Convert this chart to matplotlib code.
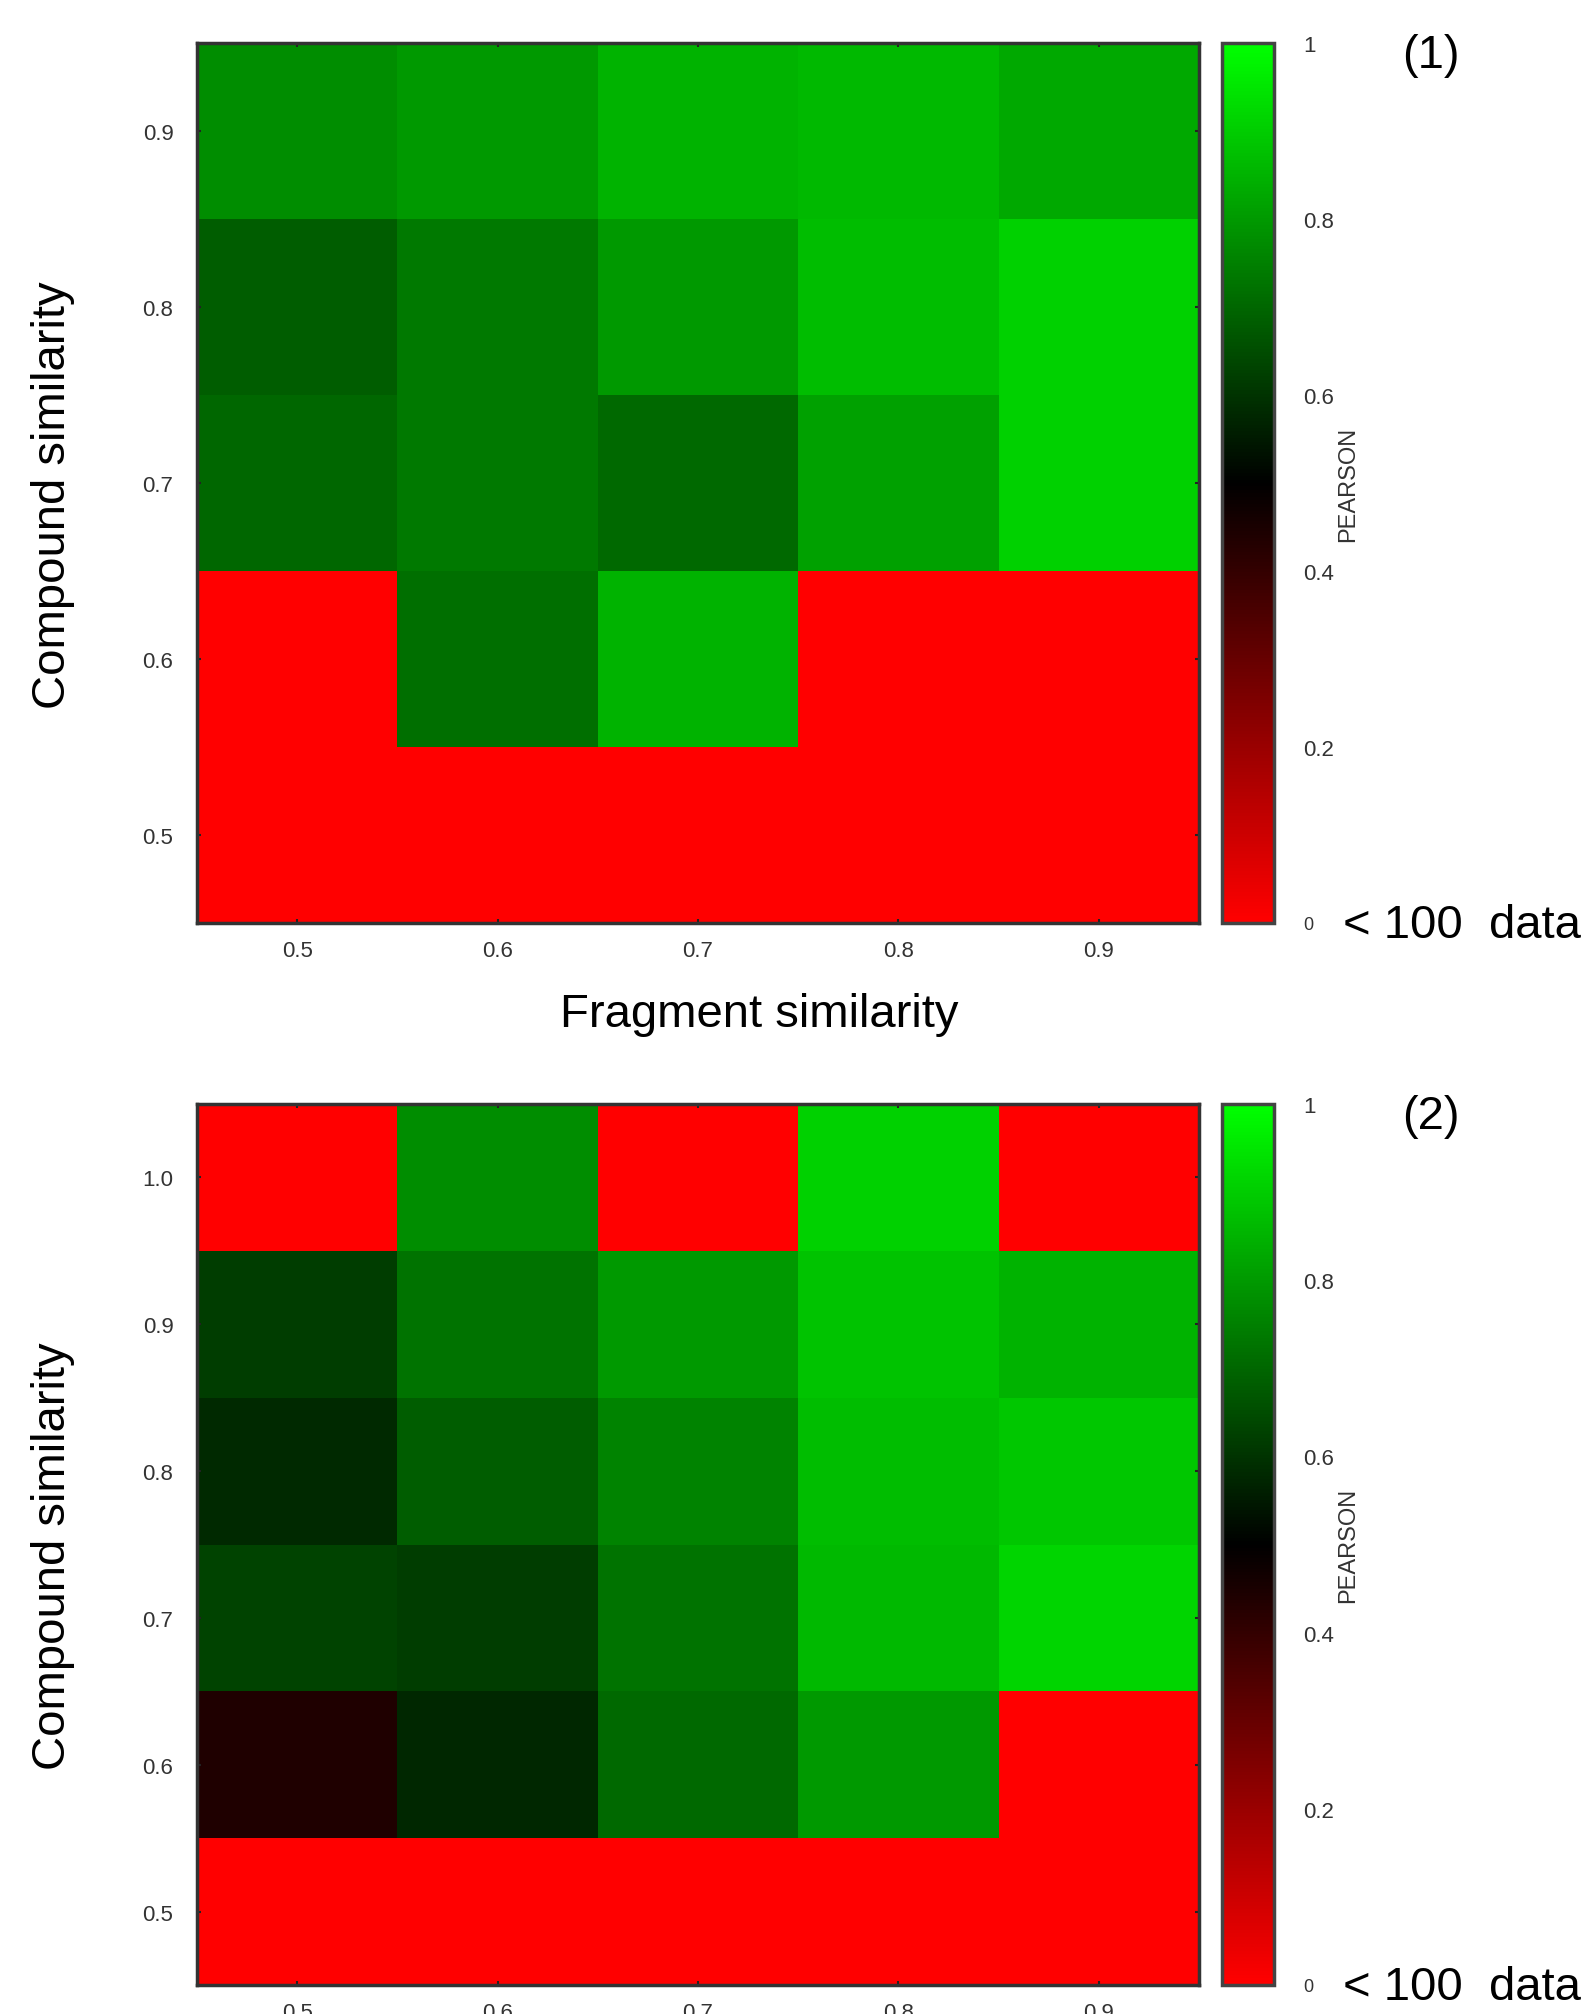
import numpy as np
import matplotlib as mpl
mpl.use('Agg')
import matplotlib.pyplot as plt
from matplotlib.colors import LinearSegmentedColormap

# fragment similarity (columns) and compound similarity (rows, bottom to top)
frag = [0.5, 0.6, 0.7, 0.8, 0.9]
comp1 = [0.5, 0.6, 0.7, 0.8, 0.9]
comp2 = [0.5, 0.6, 0.7, 0.8, 0.9, 1.0]

# PEARSON values, 0 = fewer than 100 data points (shown red)
pearson1 = [
    [0.00, 0.00, 0.00, 0.00, 0.00],   # 0.5
    [0.00, 0.715, 0.85, 0.00, 0.00],  # 0.6
    [0.70, 0.735, 0.705, 0.815, 0.91],  # 0.7
    [0.68, 0.735, 0.80, 0.87, 0.91],  # 0.8
    [0.775, 0.80, 0.85, 0.86, 0.83],  # 0.9
]
pearson2 = [
    [0.00, 0.00, 0.00, 0.00, 0.00],   # 0.5
    [0.44, 0.575, 0.705, 0.80, 0.00],  # 0.6
    [0.63, 0.62, 0.725, 0.86, 0.915],  # 0.7
    [0.58, 0.68, 0.755, 0.87, 0.89],  # 0.8
    [0.62, 0.725, 0.80, 0.88, 0.85],  # 0.9
    [0.00, 0.775, 0.00, 0.91, 0.00],  # 1.0
]
cbar_ticks = [0, 0.2, 0.4, 0.6, 0.8, 1]
cbar_labels = ['0', '0.2', '0.4', '0.6', '0.8', '1']

cmap = LinearSegmentedColormap.from_list('rbg', [(1, 0, 0), (0, 0, 0), (0, 1, 0)])
plt.rcParams['font.family'] = ['Liberation Sans', 'DejaVu Sans']

W, H = 1590, 2015
fig = plt.figure(figsize=(W / 100, H / 100), dpi=100)


def box(x0, y0, x1, y1):
    return [x0 / W, 1 - y1 / H, (x1 - x0) / W, (y1 - y0) / H]


def panel(top, bot, comp, vals, tag, xlabel):
    ax = fig.add_axes(box(197, top, 1199, bot))
    xe = np.array(frag + [frag[-1] + 0.1]) - 0.05
    ye = np.array(comp + [comp[-1] + 0.1]) - 0.05
    mesh = ax.pcolormesh(xe, ye, np.array(vals), cmap=cmap, vmin=0, vmax=1)
    ax.set_xticks(frag)
    ax.set_xticklabels(['%.1f' % v for v in frag])
    ax.set_yticks(comp)
    ax.set_yticklabels(['%.1f' % v for v in comp])
    ax.tick_params(direction='in', length=3, width=1.5, labelsize=16,
                   colors='#222222', labelcolor='#333333', top=True, right=True)
    ax.tick_params(axis='x', pad=12)
    ax.tick_params(axis='y', pad=17)
    for s in ax.spines.values():
        s.set_linewidth(2.5)
        s.set_color('#333333')
    fig.text(53 / W, 1 - ((top + bot) / 2 + 11) / H, 'Compound similarity',
             rotation=90, ha='center', va='center', fontsize=34)
    if xlabel:
        fig.text(759 / W, 1 - (bot + 91) / H, 'Fragment similarity',
                 ha='center', va='center', fontsize=34)

    cax = fig.add_axes(box(1222, top, 1274, bot))
    cb = fig.colorbar(mesh, cax=cax, ticks=cbar_ticks)
    cb.ax.set_yticklabels(cbar_labels)
    cb.ax.tick_params(length=0, pad=21, labelsize=16, labelcolor='#333333')
    cb.ax.get_yticklabels()[0].set_fontsize(13)
    cb.outline.set_linewidth(2.5)
    cb.outline.set_edgecolor('#444444')
    fig.text(1348 / W, 1 - (top + bot) / 2 / H, 'PEARSON', rotation=90,
             ha='center', va='center', fontsize=17, color='#333333')
    fig.text(1431 / W, 1 - (top + 12) / H, tag, ha='center', va='center', fontsize=34)
    fig.text(1343 / W, 1 - (bot + 2) / H, '< 100  data', ha='left', va='center',
             fontsize=34)
    return ax


panel(44, 924, comp1, pearson1, '(1)', True)
panel(1105, 1986, comp2, pearson2, '(2)', False)

fig.savefig('out.png', dpi=100)
